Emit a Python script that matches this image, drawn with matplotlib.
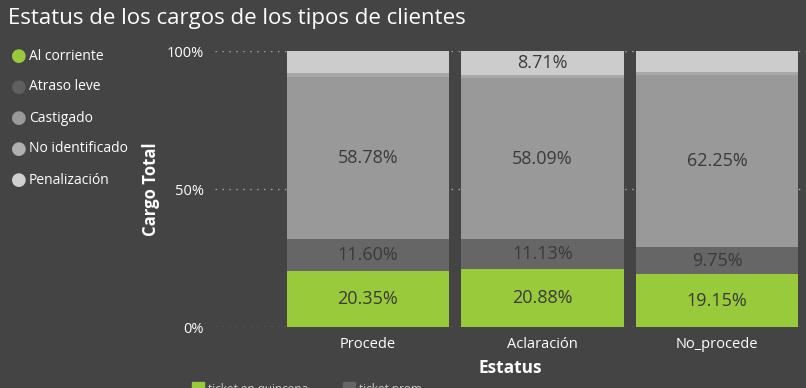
import matplotlib.pyplot as plt
import numpy as np

plt.rcParams['font.family'] = ['Open Sans', 'DejaVu Sans']

# datos (porcentaje del cargo total)
estatus = ["Procede", "Aclaración", "No_procede"]
series = ["Al corriente", "Atraso leve", "Castigado", "No identificado", "Penalización"]
al_corriente = [20.35, 20.88, 19.15]
atraso_leve = [11.60, 11.13, 9.75]
castigado = [58.78, 58.09, 62.25]
no_identificado = [1.19, 1.19, 1.25]
penalizacion = [8.08, 8.71, 7.60]

colores = ["#99ca3c", "#666666", "#999999", "#a8a8a8", "#cccccc"]
colores_leyenda = ["#99ca3c", "#5f5f5f", "#999999", "#b0b0b0", "#d0d0d0"]
fondo = "#444444"

valores = [al_corriente, atraso_leve, castigado, no_identificado, penalizacion]

fig = plt.figure(figsize=(8.06, 3.88), dpi=100, facecolor=fondo)
ax = fig.add_axes([0.2667, 0.1572, 0.7333, 0.7113])
ax.set_facecolor(fondo)

x = np.arange(len(estatus))
base = np.zeros(len(estatus))
for nombre, vals, col in zip(series, valores, colores):
    vals = np.array(vals)
    ax.bar(x, vals, bottom=base, width=0.93, color=col, zorder=3, label=nombre)
    for xi, b, v in zip(x, base, vals):
        if v >= 8.5:
            ax.text(xi, b + v / 2, f"{v:.2f}%", ha="center", va="center",
                    fontsize=13, color="#3a3a3a", zorder=4)
    base += vals

ax.set_xlim(-0.877, 2.51)
ax.set_ylim(0, 100)
ax.set_yticks([0, 50, 100])
ax.set_yticklabels(["0%", "50%", "100%"])
ax.yaxis.grid(True, linestyle=(0, (1, 4)), color="#aaaaaa", linewidth=1, zorder=0)
ax.set_xticks(x)
ax.set_xticklabels(estatus)
ax.tick_params(colors="white", labelsize=10.5, length=0)
ax.tick_params(axis="y", pad=8)
ax.tick_params(axis="x", pad=7)
for s in ax.spines.values():
    s.set_visible(False)

ax.set_ylabel("Cargo Total", color="white", fontsize=12, fontweight="bold", labelpad=5)
ax.set_xlabel("Estatus", color="white", fontsize=12.5, fontweight="bold", labelpad=5)

fig.text(0.01, 0.953, "Estatus de los cargos de los tipos de clientes",
         color="white", fontsize=16, va="center", ha="left")

# leyenda a la izquierda
for i, (nombre, col) in enumerate(zip(series, colores_leyenda)):
    yy = 1 - (56 + i * 31) / 388
    fig.text(0.0136, yy, "\u25cf", color=col, fontsize=13, va="center", ha="left",
             family=["DejaVu Sans"])
    fig.text(0.036, yy, nombre, color="white", fontsize=10, va="center", ha="left")

# leyenda inferior (cortada por el borde como en la imagen)
fig.patches.append(plt.Rectangle((192 / 806, -0.005), 12 / 806, 0.02, color="#99ca3c",
                                 transform=fig.transFigure, figure=fig))
fig.patches.append(plt.Rectangle((343 / 806, -0.005), 12 / 806, 0.02, color="#666666",
                                 transform=fig.transFigure, figure=fig))
fig.text(208 / 806, 1 - 383 / 388, "ticket en quincena", color="#cccccc", fontsize=8.5, va="top")
fig.text(359 / 806, 1 - 383 / 388, "ticket prom", color="#cccccc", fontsize=8.5, va="top")

fig.savefig("out.png", dpi=100, facecolor=fondo)
